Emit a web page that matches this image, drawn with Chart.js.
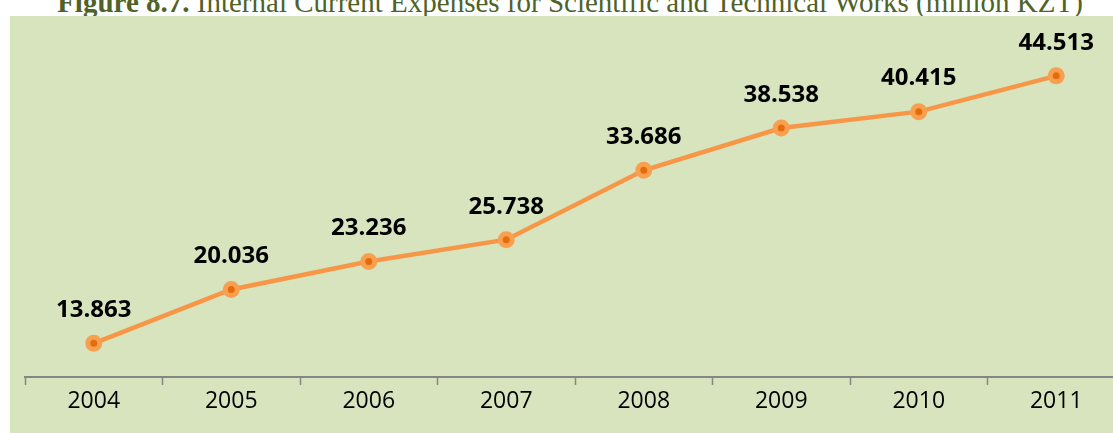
<!DOCTYPE html>
<html>
<head>
<meta charset="utf-8">
<script src="https://cdn.jsdelivr.net/npm/chart.js@4"></script>
<style>
    html, body { margin: 0; padding: 0; background: #ffffff; overflow: hidden; width: 1113px; height: 433px; }
    .title {
        position: absolute; left: 0; top: -12px; width: 1140px; text-align: center;
        font-family: "Liberation Serif", serif; font-size: 29px; line-height: 29px; color: #4f6228; white-space: nowrap;
    }
    .frame { position: absolute; left: 10px; top: 16px; width: 1130px; height: 417px; background: #d7e4bd; }
</style>
</head>
<body>
<div class="title"><b>Figure 8.7.</b> Internal Current Expenses for Scientific and Technical Works (million KZT)</div>
<div class="frame"><canvas id="chart"></canvas></div>
<script>
    const years = ["2004", "2005", "2006", "2007", "2008", "2009", "2010", "2011"];
    const expenses = [13.863, 20.036, 23.236, 25.738, 33.686, 38.538, 40.415, 44.513];

    const valueLabels = {
        id: "valueLabels",
        afterDatasetsDraw(chart) {
            const ctx = chart.ctx;
            const points = chart.getDatasetMeta(0).data;
            ctx.save();
            ctx.font = "bold 24px 'Open Sans', sans-serif";
            ctx.fillStyle = "#000000";
            ctx.textAlign = "center";
            ctx.textBaseline = "middle";
            points.forEach((point, index) => {
                ctx.fillText(expenses[index].toFixed(3), point.x, point.y - 33);
            });
            ctx.restore();
        }
    };

    new Chart(document.getElementById("chart"), {
        type: "line",
        data: {
            labels: years,
            datasets: [{
                data: expenses,
                borderColor: "#f79646",
                borderWidth: 4.5,
                pointRadius: 6,
                pointHoverRadius: 6,
                pointBorderWidth: 5,
                pointBorderColor: "#f9a050",
                pointBackgroundColor: "#e46c0a",
                tension: 0
            }]
        },
        options: {
            responsive: true,
            maintainAspectRatio: false,
            animation: false,
            layout: { padding: { left: 15, right: 15, top: 12, bottom: 0 } },
            plugins: {
                legend: { display: false },
                tooltip: { enabled: false }
            },
            scales: {
                x: {
                    offset: true,
                    afterFit(scale) { scale.height = 56; },
                    grid: {
                        offset: true,
                        drawOnChartArea: false,
                        drawTicks: true,
                        tickLength: 8,
                        tickWidth: 1.5,
                        tickColor: "#868686"
                    },
                    border: { display: true, color: "#868686", width: 2 },
                    ticks: {
                        padding: 3,
                        color: "#000000",
                        font: { family: "'Open Sans', sans-serif", size: 23 }
                    }
                },
                y: {
                    display: false,
                    min: 10,
                    max: 50
                }
            }
        },
        plugins: [valueLabels]
    });
</script>
</body>
</html>
